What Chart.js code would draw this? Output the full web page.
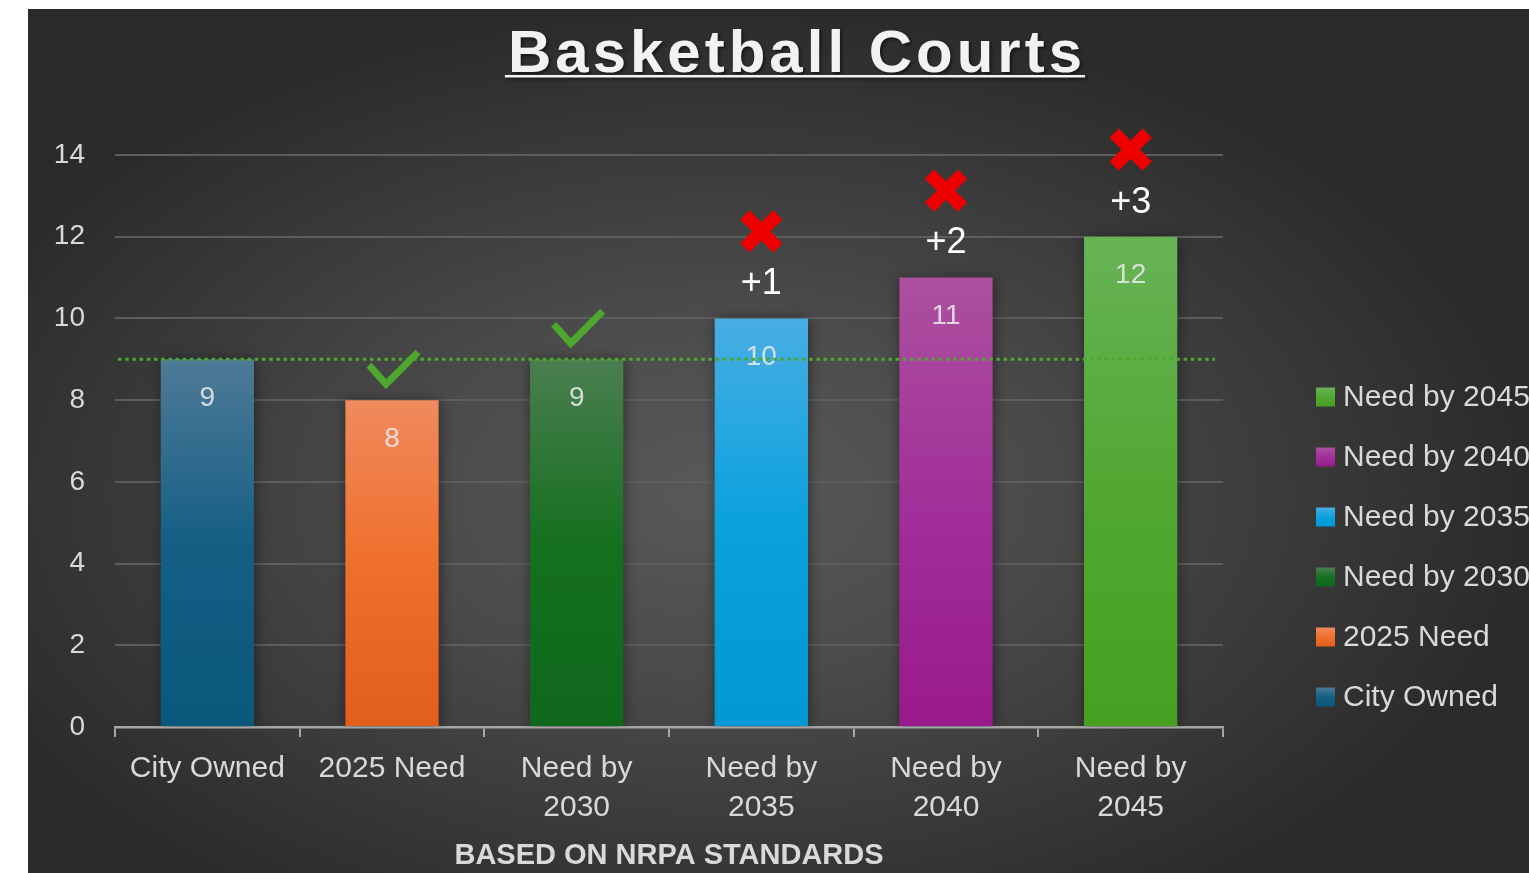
<!DOCTYPE html>
<html>
<head>
<meta charset="utf-8">
<script src="https://cdn.jsdelivr.net/npm/chart.js@4"></script>
<style>
  html, body { margin: 0; padding: 0; background: #ffffff; }
  #wrap {
    position: absolute; left: 28px; top: 9px; width: 1501px; height: 864px;
    background: radial-gradient(ellipse farthest-side at 46% 56%, #595959 0%, #4a4a4a 40%, #2b2b2b 100%);
  }
  canvas { display: block; }
</style>
</head>
<body>
<div id="wrap"><canvas id="c"></canvas></div>
<script>
// ---- data ----
const categories = ['City Owned', '2025 Need', 'Need by 2030', 'Need by 2035', 'Need by 2040', 'Need by 2045'];
const tickLabels = [['City Owned'], ['2025 Need'], ['Need by', '2030'], ['Need by', '2035'], ['Need by', '2040'], ['Need by', '2045']];
const values = [9, 8, 9, 10, 11, 12];
const cityOwnedLevel = 9;
const deficitLabels = ['', '', '', '+1', '+2', '+3'];
const statusMarks = ['', 'check', 'check', 'cross', 'cross', 'cross'];
const yMax = 14;
const yStep = 2;
const chartTitle = 'Basketball Courts';
const axisTitle = 'BASED ON NRPA STANDARDS';

// ---- styles ----
const gradStops = [
  ['#4e7a96', '#155f85', '#0a587c'],
  ['#f08a5d', '#ef6f2c', '#e25e1b'],
  ['#4b7e50', '#15701f', '#0f681c'],
  ['#48aee3', '#0aa1dd', '#0099d5'],
  ['#ac509f', '#a2309a', '#99198d'],
  ['#67b356', '#52a833', '#46a020']
];
const FONT = '"Liberation Sans", Arial, sans-serif';

function makeGrad(ctx, y0, y1, stops) {
  const g = ctx.createLinearGradient(0, y0, 0, y1);
  g.addColorStop(0, stops[0]);
  g.addColorStop(0.5, stops[1]);
  g.addColorStop(1, stops[2]);
  return g;
}

const decor = {
  id: 'decor',
  beforeDatasetsDraw(chart) {
    const ctx = chart.ctx;
    ctx.save();
    ctx.shadowColor = 'rgba(0,0,0,0.45)';
    ctx.shadowBlur = 12;
    ctx.shadowOffsetX = 1;
    ctx.shadowOffsetY = 1;
  },
  afterDatasetsDraw(chart) {
    const ctx = chart.ctx;
    ctx.restore();
    const meta = chart.getDatasetMeta(0);
    const yScale = chart.scales.y;
    // value labels inside bars
    ctx.save();
    ctx.font = '28px ' + FONT;
    ctx.fillStyle = 'rgba(232,232,232,0.88)';
    ctx.textAlign = 'center';
    ctx.textBaseline = 'middle';
    meta.data.forEach((bar, i) => {
      ctx.fillText(String(values[i]), bar.x, bar.y + 39);
    });
    ctx.restore();
    // dotted reference line at city-owned level
    const ly = yScale.getPixelForValue(cityOwnedLevel);
    ctx.save();
    ctx.strokeStyle = '#4ea72e';
    ctx.lineWidth = 3;
    ctx.setLineDash([3.5, 3.7]);
    ctx.beginPath();
    ctx.moveTo(chart.chartArea.left + 3, ly);
    ctx.lineTo(chart.chartArea.right - 8, ly);
    ctx.stroke();
    ctx.restore();
    // marks
    meta.data.forEach((bar, i) => {
      const cx = bar.x, top = bar.y;
      if (statusMarks[i] === 'check') {
        ctx.save();
        ctx.strokeStyle = '#4ea72e';
        ctx.lineWidth = 7;
        ctx.lineCap = 'butt';
        ctx.lineJoin = 'miter';
        ctx.beginPath();
        ctx.moveTo(cx - 23, top - 35);
        ctx.lineTo(cx - 6, top - 16);
        ctx.lineTo(cx + 26, top - 48);
        ctx.stroke();
        ctx.restore();
      } else if (statusMarks[i] === 'cross') {
        ctx.save();
        ctx.strokeStyle = '#ee0000';
        ctx.lineWidth = 13;
        ctx.lineCap = 'butt';
        const mx = cx, my = top - 87, r = 16.5;
        ctx.beginPath();
        ctx.moveTo(mx - r, my - r); ctx.lineTo(mx + r, my + r);
        ctx.moveTo(mx + r, my - r); ctx.lineTo(mx - r, my + r);
        ctx.stroke();
        ctx.fillStyle = '#ffffff';
        ctx.font = '36px ' + FONT;
        ctx.textAlign = 'center';
        ctx.textBaseline = 'middle';
        ctx.fillText(deficitLabels[i], cx, top - 34);
        ctx.restore();
      }
    });
  },
  afterDraw(chart) {
    const ctx = chart.ctx;
    // title
    ctx.save();
    ctx.font = 'bold 60px ' + FONT;
    ctx.letterSpacing = '4px';
    const w = ctx.measureText(chartTitle).width - 4;
    const cx = 767;
    const x0 = cx - w / 2;
    ctx.textAlign = 'left';
    ctx.textBaseline = 'alphabetic';
    ctx.shadowColor = 'rgba(0,0,0,0.5)';
    ctx.shadowBlur = 3;
    ctx.shadowOffsetX = 2;
    ctx.shadowOffsetY = 2;
    ctx.fillStyle = '#f2f2f2';
    ctx.fillText(chartTitle, x0, 63);
    ctx.fillRect(x0 - 3, 66, w + 6, 2.5);
    ctx.restore();
    // legend (reversed order)
    ctx.save();
    ctx.font = '30px ' + FONT;
    ctx.textAlign = 'left';
    ctx.textBaseline = 'middle';
    const n = categories.length;
    for (let k = 0; k < n; k++) {
      const i = n - 1 - k;
      const yc = 388 + k * 60;
      ctx.fillStyle = makeGrad(ctx, yc - 9.5, yc + 9.5, gradStops[i]);
      ctx.fillRect(1288, yc - 9.5, 19, 19);
      ctx.fillStyle = '#d9d9d9';
      ctx.fillText(categories[i], 1315, yc + 1);
    }
    ctx.restore();
  }
};

new Chart(document.getElementById('c'), {
  type: 'bar',
  data: {
    labels: tickLabels,
    datasets: [{
      label: 'Basketball Courts',
      data: values,
      backgroundColor: (c) => {
        const chart = c.chart;
        if (!chart.chartArea) return gradStops[c.dataIndex][1];
        const ys = chart.scales.y;
        const top = ys.getPixelForValue(values[c.dataIndex]);
        const base = ys.getPixelForValue(0);
        return makeGrad(chart.ctx, top, base, gradStops[c.dataIndex]);
      },
      borderWidth: 0,
      barPercentage: 0.505,
      categoryPercentage: 1
    }]
  },
  options: {
    responsive: true,
    maintainAspectRatio: false,
    animation: false,
    layout: { padding: { top: 146, right: 306, bottom: 0, left: 0 } },
    plugins: {
      legend: { display: false },
      title: { display: false },
      tooltip: { enabled: false }
    },
    scales: {
      x: {
        grid: { display: true, drawOnChartArea: false, drawTicks: true, tickLength: 10, color: '#a6a6a6', lineWidth: 2, offset: true },
        border: { display: true, color: '#a6a6a6', width: 2.5 },
        ticks: { color: '#d9d9d9', font: { family: FONT, size: 30, lineHeight: 1.3 }, padding: 12, maxRotation: 0, autoSkip: false },
        title: { display: true, text: axisTitle, color: '#d9d9d9', font: { family: FONT, size: 29, weight: 'bold' }, padding: { top: 0, bottom: 0 } },
        afterFit: (s) => { s.height = 146; }
      },
      y: {
        min: 0, max: yMax,
        grid: { color: '#5d5d5d', lineWidth: 2, drawTicks: false },
        border: { display: false },
        ticks: { stepSize: yStep, color: '#d9d9d9', font: { family: FONT, size: 28 }, padding: 30 },
        afterFit: (s) => { s.width = 87; }
      }
    }
  },
  plugins: [decor]
});
</script>
</body>
</html>
